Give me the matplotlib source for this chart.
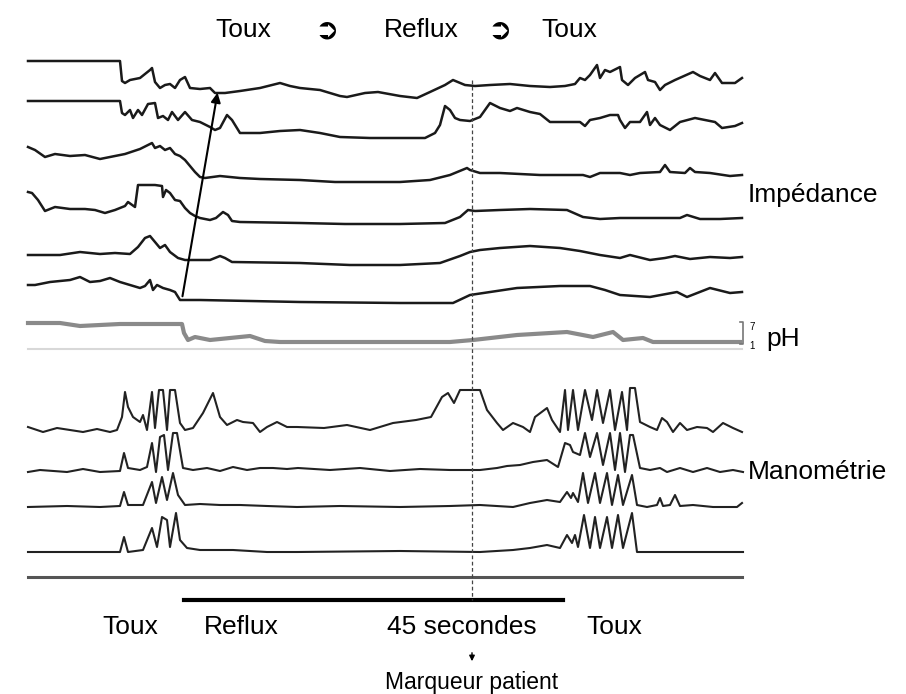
import matplotlib.pyplot as plt

# impedance channels (x = sample position, y = level, image units)
imp1_x = [28, 120, 122, 125, 130, 140, 150, 152, 155, 160, 165, 170, 175, 180, 185, 190, 200, 210, 215, 225, 240, 260, 280, 290, 300,
          320, 340, 347, 365, 378, 400, 417, 430, 445, 453, 465, 475, 490, 510, 530, 550, 565, 575, 580, 585, 590, 597, 600, 605, 610,
          620, 622, 628, 635, 645, 648, 655, 660, 665, 675, 693, 700, 710, 715, 722, 735, 742]
imp1_y = [61, 61, 81, 83, 80, 78, 70, 68, 82, 88, 85, 84, 88, 80, 77, 88, 89, 88, 93, 93, 91, 88, 83, 86, 88,
          90, 96, 97, 93, 92, 96, 98, 92, 85, 80, 85, 86, 85, 84, 86, 87, 86, 84, 78, 80, 75, 65, 78, 70, 72,
          67, 80, 85, 78, 72, 80, 82, 90, 85, 80, 72, 76, 80, 73, 83, 83, 78]

imp2_x = [28, 120, 122, 125, 130, 133, 138, 142, 148, 155, 158, 163, 168, 172, 178, 185, 192, 200, 210, 215, 220, 227, 232, 240, 260, 280, 300,
          320, 340, 370, 400, 425, 435, 440, 445, 450, 455, 460, 470, 480, 490, 500, 510, 517, 530, 540, 550, 580, 585, 590, 600, 610,
          618, 620, 625, 630, 640, 647, 650, 655, 660, 670, 680, 695, 705, 715, 722, 735, 742]
imp2_y = [101, 101, 113, 115, 110, 118, 110, 115, 104, 103, 118, 116, 120, 112, 120, 112, 120, 122, 127, 130, 128, 115, 120, 133, 133, 131, 130,
          133, 137, 138, 138, 138, 133, 125, 106, 110, 118, 120, 121, 117, 103, 108, 111, 108, 112, 114, 122, 122, 126, 120, 118, 115,
          115, 120, 128, 122, 122, 112, 125, 118, 125, 130, 122, 118, 120, 122, 128, 126, 123]

imp3_x = [28, 35, 45, 55, 70, 85, 100, 110, 125, 140, 152, 155, 160, 165, 170, 175, 180, 185, 190, 195, 200, 205, 220, 240, 260, 300,
          335, 400, 430, 450, 467, 470, 480, 500, 540, 583, 590, 600, 620, 630, 640, 660, 665, 670, 685, 690, 695, 710, 730, 742]
imp3_y = [147, 150, 157, 154, 156, 155, 159, 157, 154, 149, 143, 148, 146, 150, 148, 154, 156, 160, 166, 172, 177, 178, 176, 178, 179, 180,
          182, 182, 180, 175, 168, 170, 173, 173, 175, 175, 177, 173, 173, 175, 173, 172, 165, 172, 173, 168, 172, 173, 176, 175]

imp4_x = [28, 32, 38, 45, 55, 70, 85, 95, 105, 115, 125, 128, 135, 138, 155, 162, 163, 166, 170, 175, 180, 185, 190, 195, 200, 210, 216, 223,
          228, 232, 240, 300, 345, 400, 445, 460, 468, 475, 500, 530, 567, 583, 600, 620, 650, 680, 687, 700, 720, 742]
imp4_y = [192, 193, 200, 211, 207, 209, 209, 210, 213, 210, 206, 202, 207, 185, 185, 186, 197, 190, 193, 200, 201, 208, 213, 216, 218, 220, 218, 212,
          215, 221, 222, 223, 224, 224, 223, 217, 210, 211, 210, 209, 210, 217, 219, 218, 218, 218, 215, 219, 219, 218]

imp5_x = [28, 60, 80, 100, 115, 130, 138, 145, 150, 155, 160, 165, 170, 178, 185, 195, 210, 220, 225, 232, 300,
          350, 400, 440, 460, 470, 480, 500, 530, 560, 580, 600, 620, 630, 650, 665, 675, 690, 710, 730, 742]
imp5_y = [255, 255, 252, 254, 253, 254, 247, 238, 236, 242, 248, 245, 252, 258, 260, 260, 260, 256, 258, 262, 263,
          265, 265, 263, 256, 252, 250, 248, 246, 248, 251, 255, 258, 255, 260, 258, 256, 259, 257, 258, 257]

imp6_x = [28, 35, 50, 70, 80, 90, 100, 110, 120, 130, 140, 145, 150, 153, 157, 163, 170, 175, 180, 200, 300,
          400, 453, 470, 517, 560, 590, 605, 620, 650, 677, 687, 710, 730, 742]
imp6_y = [285, 285, 282, 280, 277, 282, 281, 278, 282, 285, 288, 286, 280, 290, 285, 288, 290, 292, 300, 300, 302,
          303, 303, 295, 288, 286, 286, 290, 295, 297, 292, 297, 288, 293, 292]

# pH channel
ph_x = [28, 60, 80, 100, 120, 150, 182, 184, 188, 195, 210, 230, 250, 265, 280, 300, 450, 473, 517, 567, 593, 613, 623, 643, 653, 740]
ph_y = [323, 323, 326, 325, 324, 324, 324, 333, 340, 337, 340, 338, 336, 341, 342, 342, 342, 340, 335, 332, 337, 332, 340, 338, 342, 342]

# manometry channels
man1_x = [28, 43, 57, 70, 83, 97, 110, 117, 122, 125, 128, 133, 140, 143, 147, 152, 155, 159, 163, 167, 170, 175, 180, 185, 193, 203,
          213, 220, 227, 237, 243, 253, 260, 267, 277, 287, 297, 324, 347, 370, 393, 416, 431, 442, 448, 454, 460, 480, 487, 497,
          503, 513, 523, 530, 535, 547, 552, 560, 565, 568, 573, 578, 585, 592, 597, 603, 610, 615, 622, 627, 630, 635, 640, 650,
          657, 662, 667, 673, 680, 687, 697, 707, 713, 723, 733, 742]
man1_y = [427, 432, 428, 430, 432, 429, 432, 430, 417, 392, 407, 417, 422, 415, 430, 392, 428, 390, 390, 430, 390, 390, 423, 430, 428, 413,
          393, 417, 425, 420, 422, 423, 432, 427, 422, 427, 427, 428, 425, 430, 423, 420, 417, 397, 393, 403, 390, 390, 410, 423,
          430, 423, 427, 432, 417, 408, 420, 432, 390, 430, 390, 430, 390, 420, 390, 423, 390, 430, 392, 430, 388, 388, 422, 427,
          430, 418, 422, 432, 423, 430, 427, 428, 432, 423, 428, 432]

man2_x = [28, 40, 67, 83, 100, 120, 124, 128, 140, 147, 152, 156, 160, 164, 168, 173, 177, 183, 193, 207, 220, 233, 247, 260, 273,
          287, 298, 330, 360, 390, 420, 450, 480, 497, 507, 520, 533, 547, 558, 565, 570, 573, 580, 585, 590, 597, 603, 610, 615,
          620, 625, 630, 633, 640, 650, 660, 667, 680, 693, 707, 720, 733, 743]
man2_y = [472, 470, 472, 469, 472, 471, 453, 468, 470, 467, 443, 472, 437, 435, 470, 433, 433, 468, 470, 468, 471, 467, 470, 468, 468,
          469, 468, 470, 468, 471, 469, 470, 470, 468, 466, 465, 462, 460, 467, 443, 445, 452, 455, 433, 457, 433, 465, 433, 470,
          433, 472, 435, 435, 468, 470, 468, 472, 468, 472, 468, 472, 470, 472]

man3_x = [28, 67, 100, 120, 124, 128, 143, 152, 156, 162, 167, 173, 178, 185, 200, 220, 240, 267, 297, 340, 400, 450, 480, 513,
          530, 547, 560, 567, 571, 573, 578, 583, 588, 595, 600, 607, 612, 618, 623, 632, 637, 647, 657, 660, 663, 670, 675, 680,
          693, 713, 737, 742]
man3_y = [507, 506, 507, 506, 492, 505, 505, 482, 503, 477, 500, 473, 495, 505, 504, 505, 505, 506, 507, 506, 507, 506, 505, 507,
          503, 500, 502, 492, 498, 493, 502, 473, 503, 473, 503, 473, 505, 475, 505, 475, 505, 507, 505, 498, 506, 505, 495, 506,
          505, 507, 507, 503]

man4_x = [28, 100, 120, 124, 128, 143, 152, 157, 162, 167, 170, 176, 180, 187, 200, 233, 267, 297, 400, 480, 513, 530, 547,
          560, 567, 572, 575, 578, 584, 590, 595, 600, 607, 612, 618, 623, 632, 637, 647, 743]
man4_y = [552, 552, 552, 537, 552, 550, 528, 547, 517, 520, 547, 513, 540, 548, 550, 550, 552, 552, 551, 552, 550, 548, 545,
          548, 535, 543, 535, 547, 515, 548, 517, 548, 517, 548, 515, 548, 513, 552, 552, 552]

imp_traces = [(imp1_x, imp1_y), (imp2_x, imp2_y), (imp3_x, imp3_y), (imp4_x, imp4_y), (imp5_x, imp5_y), (imp6_x, imp6_y)]
man_traces = [(man1_x, man1_y), (man2_x, man2_y), (man3_x, man3_y), (man4_x, man4_y)]

plt.rcParams['font.family'] = ['Liberation Sans', 'DejaVu Sans']

fig = plt.figure(figsize=(9.06, 6.94), dpi=100)
ax = fig.add_axes([0, 0, 1, 1])
ax.set_xlim(0, 906)
ax.set_ylim(694, 0)
ax.axis("off")

for x, y in imp_traces:
    ax.plot(x, y, color="#1a1a1a", lw=1.8)

ax.plot(ph_x, ph_y, color="#8a8a8a", lw=3)
ax.plot([28, 742], [349, 349], color="#d8d8d8", lw=1.5)   # pH baseline
ax.plot([740, 743, 743, 740], [322, 322, 344, 344], color="#777777", lw=1.2)  # pH scale

for x, y in man_traces:
    ax.plot(x, y, color="#222222", lw=1.5)

ax.plot([28, 742], [577, 577], color="#555555", lw=2.2)
ax.plot([184, 563], [600, 600], color="black", lw=3)

# marker line
ax.plot([472, 472], [80, 600], color="#444444", lw=0.9, ls=(0, (3, 2)))

# reflux propagation arrow
ax.annotate("", xy=(218, 90), xytext=(182, 299),
            arrowprops=dict(arrowstyle="-|>", color="black", lw=1.5, mutation_scale=14))

# patient marker arrow
ax.annotate("", xy=(472, 664), xytext=(472, 650),
            arrowprops=dict(arrowstyle="-|>", color="black", lw=1, mutation_scale=8))

fs = 19
ax.text(243, 30, "Toux", fontsize=fs, ha="center", va="center")
ax.text(327, 30, "➲", fontsize=21, ha="center", va="center", fontweight="bold")
ax.text(421, 30, "Reflux", fontsize=fs, ha="center", va="center")
ax.text(500, 30, "➲", fontsize=21, ha="center", va="center", fontweight="bold")
ax.text(569, 30, "Toux", fontsize=fs, ha="center", va="center")

ax.text(748, 195, "Impédance", fontsize=fs, ha="left", va="center")
ax.text(748, 472, "Manométrie", fontsize=fs, ha="left", va="center")
ax.text(752, 327, "7", fontsize=7, ha="center", va="center")
ax.text(752, 346, "1", fontsize=7, ha="center", va="center")
ax.text(766, 339, "pH", fontsize=fs, ha="left", va="center")

ax.text(130, 627, "Toux", fontsize=fs, ha="center", va="center")
ax.text(241, 627, "Reflux", fontsize=fs, ha="center", va="center")
ax.text(462, 627, "45 secondes", fontsize=fs, ha="center", va="center")
ax.text(614, 627, "Toux", fontsize=fs, ha="center", va="center")
ax.text(472, 682, "Marqueur patient", fontsize=16.5, ha="center", va="center")

fig.savefig("out.png", dpi=100)
